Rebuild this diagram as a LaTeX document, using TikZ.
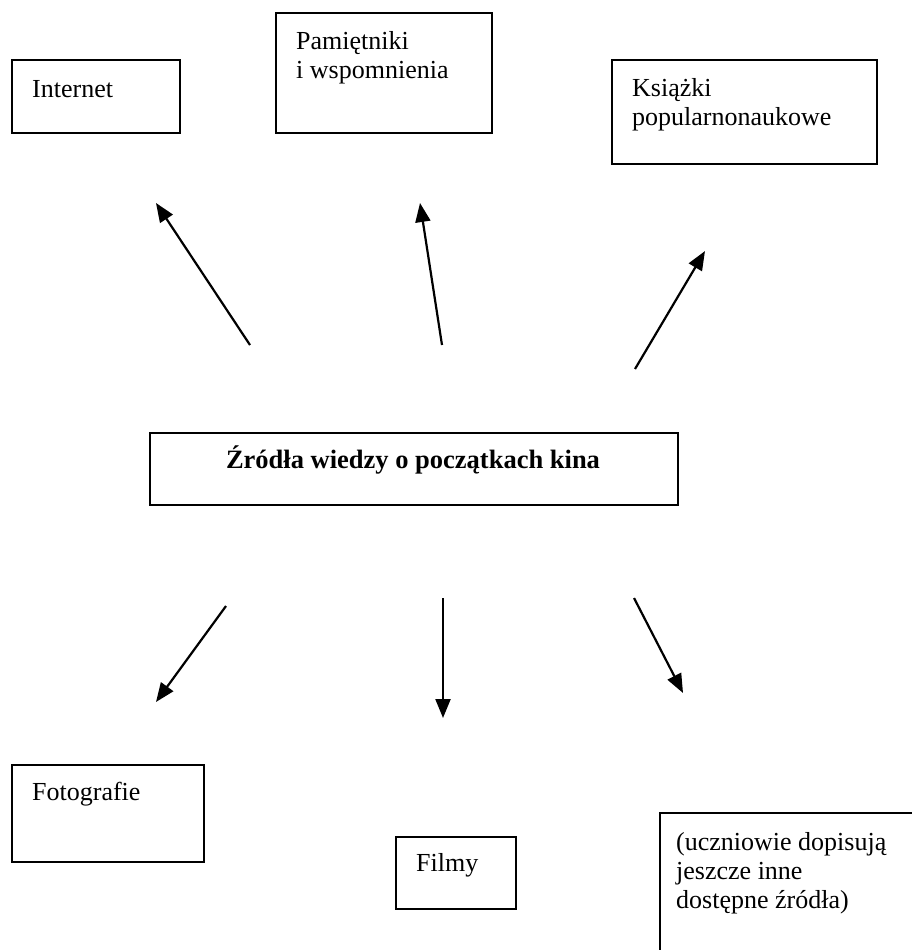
\documentclass[tikz,border=0pt]{standalone}
\usepackage{fontspec}
\setmainfont{Liberation Serif}
\usetikzlibrary{arrows.meta}
\tikzset{
  srcbox/.style={draw, line width=2pt, inner sep=0pt, anchor=north west},
  srctext/.style={anchor=base west, inner sep=0pt, font=\fontsize{26}{29}\selectfont, align=left},
  ptr/.style={line width=2.2pt, -{Triangle[length=19pt,width=15pt]}}
}
\begin{document}
\begin{tikzpicture}[x=1pt,y=-1pt]
\useasboundingbox (0,0) rectangle (912,950);
\clip (0,0) rectangle (912,950);
\fill[white] (0,0) rectangle (912,950);
% boxes
\node[srcbox, minimum width=168pt, minimum height=73pt] (bint) at (11,59) {};
\node[srcbox, minimum width=216pt, minimum height=120pt] (bpam) at (275,12) {};
\node[srcbox, minimum width=265pt, minimum height=104pt] (bksi) at (611,59) {};
\node[srcbox, minimum width=528pt, minimum height=72pt] (bcen) at (149,432) {};
\node[srcbox, minimum width=192pt, minimum height=97pt] (bfot) at (11,764) {};
\node[srcbox, minimum width=120pt, minimum height=72pt] (bfil) at (395,836) {};
\node[srcbox, minimum width=280pt, minimum height=170pt] (buc) at (659,812) {};
% texts (base anchor = baseline of last line)
\node[srctext] (tint) at (32,97) {Internet};
\node[srctext] (tpam) at (296,78) {Pamiętniki\\i wspomnienia};
\node[srctext] (tksi) at (632,125) {Książki\\popularnonaukowe};
\node[anchor=base, inner sep=0pt, font=\fontsize{26.5}{29}\selectfont\bfseries] (tcen) at (413,468) {Źródła wiedzy o początkach kina};
\node[srctext] (tfot) at (32,800) {Fotografie};
\node[srctext] (tfil) at (416,871) {Filmy};
\node[srctext] (tuc) at (676,908) {(uczniowie dopisują\\jeszcze inne\\dostępne źródła)};
% arrow ends
\coordinate (a1s) at (250,345); \coordinate (a1e) at (156,203);
\coordinate (a2s) at (442,345); \coordinate (a2e) at (420,203);
\coordinate (a3s) at (635,369); \coordinate (a3e) at (705,251);
\coordinate (a4s) at (226,606); \coordinate (a4e) at (156,702);
\coordinate (a5s) at (443,598); \coordinate (a5e) at (443,718);
\coordinate (a6s) at (634,598); \coordinate (a6e) at (683,693);
\draw[ptr] (a1s) -- (a1e);
\draw[ptr] (a2s) -- (a2e);
\draw[ptr] (a3s) -- (a3e);
\draw[ptr] (a4s) -- (a4e);
\draw[ptr] (a5s) -- (a5e);
\draw[ptr] (a6s) -- (a6e);
\end{tikzpicture}
\end{document}
